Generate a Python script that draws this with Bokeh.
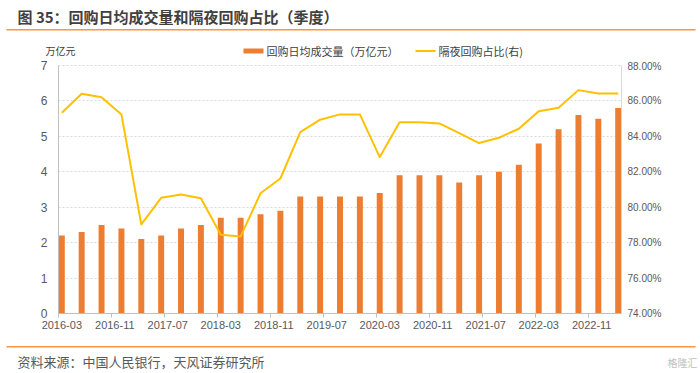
from bokeh.plotting import figure
from bokeh.models import (Range1d, LinearAxis, FixedTicker, PrintfTickFormatter, Label,
                          BoxAnnotation, ColumnDataSource)
from bokeh.embed import file_html
from bokeh.resources import INLINE

# ---------------- data ----------------
quarters = ["2016-03", "2016-06", "2016-09", "2016-12",
            "2017-03", "2017-06", "2017-09", "2017-12",
            "2018-03", "2018-06", "2018-09", "2018-12",
            "2019-03", "2019-06", "2019-09", "2019-12",
            "2020-03", "2020-06", "2020-09", "2020-12",
            "2021-03", "2021-06", "2021-09", "2021-12",
            "2022-03", "2022-06", "2022-09", "2022-12",
            "2023-03"]
volume = [2.2, 2.3, 2.5, 2.4,
          2.1, 2.2, 2.4, 2.5,
          2.7, 2.7, 2.8, 2.9,
          3.3, 3.3, 3.3, 3.3,
          3.4, 3.9, 3.9, 3.9,
          3.7, 3.9, 4.0, 4.2,
          4.8, 5.2, 5.6, 5.5,
          5.8]
overnight_share = [85.33, 86.40, 86.21, 85.24,
                   79.03, 80.53, 80.72, 80.51,
                   78.44, 78.35, 80.79, 81.62,
                   84.24, 84.94, 85.24, 85.24,
                   82.83, 84.80, 84.80, 84.73,
                   84.18, 83.62, 83.92, 84.43,
                   85.42, 85.61, 86.61, 86.42,
                   86.42]
tick_labels = ["2016-03", "2016-11", "2017-07", "2018-03", "2018-11", "2019-07",
               "2020-03", "2020-11", "2021-07", "2022-03", "2022-11"]
left_ticks = [0, 1, 2, 3, 4, 5, 6, 7]
right_ticks = [74, 76, 78, 80, 82, 84, 86, 88]

title_text = "图 35：回购日均成交量和隔夜回购占比（季度）"
source_text = "资料来源：中国人民银行，天风证券研究所"
unit_text = "万亿元"
bar_name = "回购日均成交量（万亿元）"
line_name = "隔夜回购占比(右)"


def month_index(s):
    y, m = s.split("-")
    return (int(y) - 2016) * 12 + int(m) - 3


xs = [month_index(q) + 0.5 for q in quarters]
src = ColumnDataSource(dict(x=xs, vol=volume, share=overnight_share, q=quarters))

CJK = "Noto Sans CJK SC"
NUM = "Liberation Sans"
GRAY = "#595959"
DARK = "#404040"
BAR_C = "#ED7D31"
LINE_C = "#FFC000"
RULE_C = "#F79646"
W = 700


def blank(height):
    # a plain canvas whose data units equal pixels (y measured upward)
    f = figure(width=W, height=height, output_backend="svg", toolbar_location=None,
               x_range=Range1d(0, W), y_range=Range1d(0, height),
               x_axis_type=None, y_axis_type=None, min_border=0)
    f.outline_line_color = None
    f.background_fill_color = "white"
    f.border_fill_color = "white"
    f.grid.visible = False
    return f


def box(f, left, right, bottom, top, color):
    f.add_layout(BoxAnnotation(left=left, right=right, bottom=bottom, top=top,
                               fill_color=color, fill_alpha=1, line_color=None))


# ---------------- header (title, rule, unit, legend) : reference y 0..60 ----------------
HH = 60
hd = blank(HH)
hd.add_layout(Label(x=17, y=HH - 15.5, text=title_text,
                    text_font=CJK, text_font_size="15px", text_font_style="bold",
                    text_color=DARK, text_baseline="middle"))
box(hd, 6, 695, HH - 30, HH - 28.5, RULE_C)
hd.add_layout(Label(x=45, y=HH - 50, text=unit_text,
                    text_font=CJK, text_font_size="10px", text_color=DARK,
                    text_baseline="middle"))
# legend
box(hd, 243, 263, HH - 53, HH - 48, BAR_C)
hd.add_layout(Label(x=266, y=HH - 50.5, text=bar_name,
                    text_font=CJK, text_font_size="11px", text_color=DARK,
                    text_baseline="middle"))
box(hd, 415, 435, HH - 51.5, HH - 49.5, LINE_C)
hd.add_layout(Label(x=438, y=HH - 50.5, text=line_name,
                    text_font=CJK, text_font_size="11px", text_color=DARK,
                    text_baseline="middle"))

# ---------------- main chart : reference y 60..345 ----------------
MH = 285
TOP_GAP = 5       # frame top sits 5px above the value-7 gridline
PLOT_PX = 248     # pixel height of 0..7
p = figure(width=W, height=MH, output_backend="svg", toolbar_location=None,
           x_range=Range1d(0, 85),
           y_range=Range1d(0, 7 + TOP_GAP * 7 / PLOT_PX),
           min_border_left=58, min_border_right=79, min_border_top=0, min_border_bottom=32)
p.outline_line_color = None
p.background_fill_color = "white"
p.border_fill_color = "white"
p.extra_y_ranges = {"pct": Range1d(74, 88 + TOP_GAP * 14 / PLOT_PX)}

p.vbar(x="x", top="vol", width=0.9, source=src, fill_color=BAR_C, line_color=None,
       legend_label=bar_name)
p.line(x="x", y="share", source=src, y_range_name="pct",
       line_color=LINE_C, line_width=2, line_join="round", legend_label=line_name)
p.legend.visible = False

xa = p.xaxis[0]
xa.ticker = FixedTicker(ticks=[month_index(t) + 0.5 for t in tick_labels],
                        minor_ticks=[month_index(t) for t in tick_labels])
xa.major_label_overrides = {month_index(t) + 0.5: t for t in tick_labels}
xa.major_tick_out = 0
xa.major_tick_in = 0
xa.minor_tick_out = 4
xa.minor_tick_in = 0
xa.minor_tick_line_color = "#BFBFBF"
xa.axis_line_color = "#BFBFBF"
xa.major_label_standoff = 3
xa.major_label_text_font = NUM
xa.major_label_text_font_size = "11px"
xa.major_label_text_color = GRAY

ya = p.yaxis[0]
ya.ticker = FixedTicker(ticks=left_ticks)
ya.bounds = (0, 7)
ya.major_tick_out = 0
ya.major_tick_in = 0
ya.minor_tick_out = 0
ya.minor_tick_in = 0
ya.axis_line_color = "#BFBFBF"
ya.major_label_standoff = 11
ya.major_label_text_font = NUM
ya.major_label_text_font_size = "12px"
ya.major_label_text_color = GRAY

ra = LinearAxis(y_range_name="pct", ticker=FixedTicker(ticks=right_ticks),
                formatter=PrintfTickFormatter(format="%.2f%%"), bounds=(74, 88))
ra.major_tick_out = 0
ra.major_tick_in = 0
ra.minor_tick_out = 0
ra.minor_tick_in = 0
ra.axis_line_color = "#D9D9D9"
ra.major_label_standoff = 6
ra.major_label_text_font = NUM
ra.major_label_text_font_size = "10px"
ra.major_label_text_color = GRAY
p.add_layout(ra, "right")

p.xgrid.visible = False
p.ygrid.ticker = FixedTicker(ticks=left_ticks)
p.ygrid.grid_line_color = "#D9D9D9"
p.ygrid.grid_line_dash = "2 2"

# ---------------- footer : reference y 345..373 ----------------
FH = 373 - HH - MH
ft = blank(FH)
box(ft, 6, 695, 373 - 347, 373 - 345.5, RULE_C)
ft.add_layout(Label(x=17, y=373 - 361, text=source_text,
                    text_font=CJK, text_font_size="13px", text_color=GRAY,
                    text_baseline="middle"))
ft.add_layout(Label(x=667, y=373 - 362, text="格隆汇",
                    text_font=CJK, text_font_size="10px", text_color="#C0C0C0",
                    text_baseline="middle"))

open("out.html", "w").write(file_html([hd, p, ft], INLINE))
